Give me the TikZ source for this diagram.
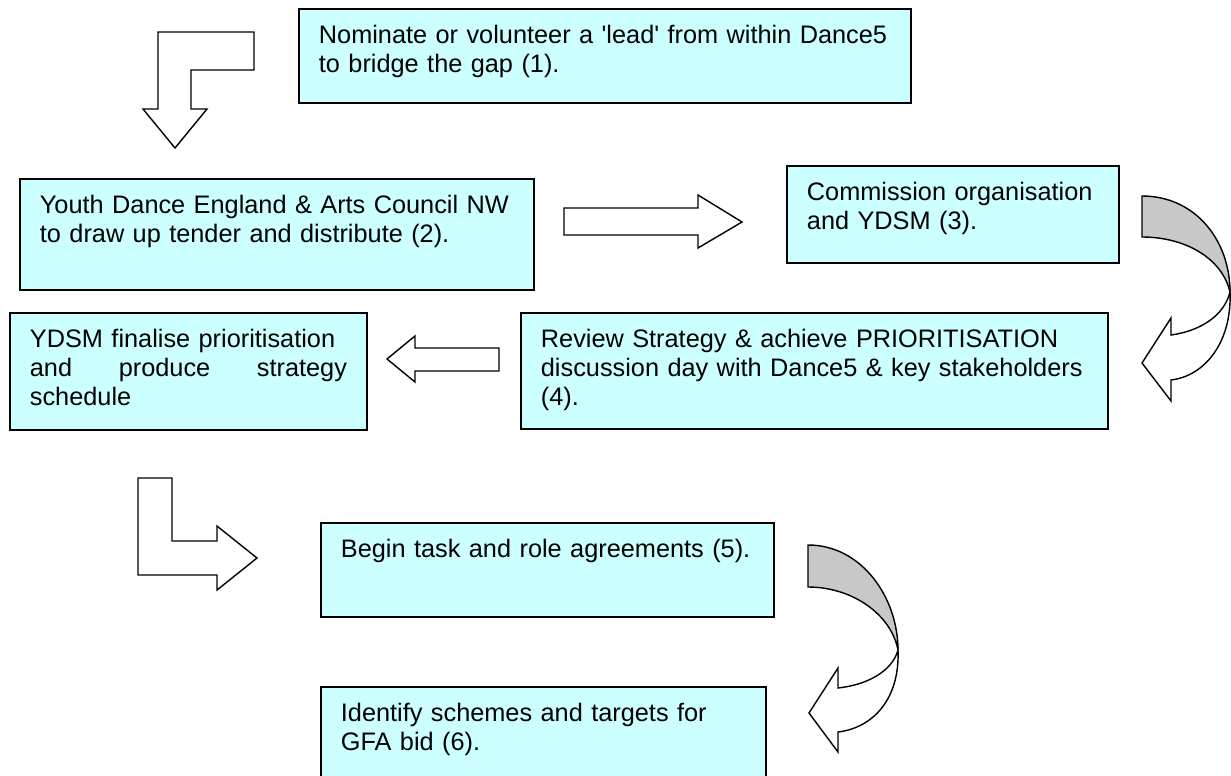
\documentclass[tikz,border=0pt]{standalone}
\usepackage{fontspec}
\newfontfamily\arial{Liberation Sans}
\definecolor{boxfill}{HTML}{CCFFFF}
\definecolor{backfold}{HTML}{C8C8C8}
\tikzset{every node/.style={font=\arial\fontsize{18}{20.6}\selectfont}}
\hyphenpenalty=10000

\begin{document}
\begin{tikzpicture}[x=0.025cm,y=-0.025cm]
\clip (0,0) rectangle (1231,776);

\tikzstyle{s}=[draw,line width=1.3pt,fill=boxfill,anchor=north west,align=left,inner xsep=0.5cm,inner ysep=0pt,text height=0.875cm]
\tikzstyle{a}=[draw,line width=1pt,fill=white,line join=miter]
\tikzstyle{f}=[draw,line width=1pt,fill=backfold]

% the stages
\node[s,text width=14.3cm,text depth=1.475cm] (s1) at (298,8)
  {Nominate or volunteer a 'lead' from within Dance5\\to bridge the gap (1).};
\node[s,text width=11.85cm,text depth=1.9cm] (s2) at (19,178)
  {Youth Dance England \& Arts Council NW\\to draw up tender and distribute (2).};
\node[s,text width=7.3cm,text depth=1.55cm] (s3) at (786,165)
  {Commission organisation\\and YDSM (3).};
\node[s,text width=13.675cm,text depth=2.025cm] (s4) at (520,312)
  {Review Strategy \& achieve PRIORITISATION\\discussion day with Dance5 \& key stakeholders\\(4).};
\node[s,text width=7.925cm,text depth=2.05cm] (ydsm) at (9,312)
  {YDSM finalise prioritisation\\and\hfill produce\hfill strategy\\schedule};
\node[s,text width=10.325cm,text depth=1.475cm] (s5) at (320,522)
  {Begin task and role agreements (5).};
\node[s,text width=10.125cm,text depth=1.725cm] (s6) at (320,686)
  {Identify schemes and targets for\\GFA bid (6).};

% 1 -> 2
\draw[a] (158,32) -- (254,32) -- (254,70) -- (191,70) -- (191,109) -- (207,109)
  -- (175,148) -- (143,109) -- (158,109) -- cycle;
% 2 -> 3
\draw[a] (564,208) -- (698,208) -- (698,195) -- (742,222) -- (698,248)
  -- (698,235) -- (564,235) -- cycle;
% 3 -> 4
\draw[f] (1142,196) .. controls (1195,196) and (1230,240) .. (1230,292)
  .. controls (1222,258) and (1185,237) .. (1142,237) -- cycle;
\draw[a] (1230,292) .. controls (1232,342) and (1205,376) .. (1171,380)
  -- (1171,401) -- (1142,363) -- (1171,318) -- (1171,335)
  .. controls (1200,331) and (1224,316) .. (1230,292) -- cycle;
% 4 -> ydsm
\draw[a] (499,348) -- (415,348) -- (415,336) -- (387,359) -- (415,382)
  -- (415,371) -- (499,371) -- cycle;
% ydsm -> 5
\draw[a] (138,478) -- (172,478) -- (172,541) -- (217,541) -- (217,526)
  -- (257,558) -- (217,590) -- (217,575) -- (138,575) -- cycle;
% 5 -> 6
\draw[f] (808,545) .. controls (862,545) and (898,598) .. (898,650)
  .. controls (891,614) and (852,587) .. (808,587) -- cycle;
\draw[a] (898,650) .. controls (900,700) and (872,728) .. (838,732)
  -- (838,752) -- (809,713) -- (838,668) -- (838,688)
  .. controls (866,685) and (892,672) .. (898,650) -- cycle;

\end{tikzpicture}
\end{document}
